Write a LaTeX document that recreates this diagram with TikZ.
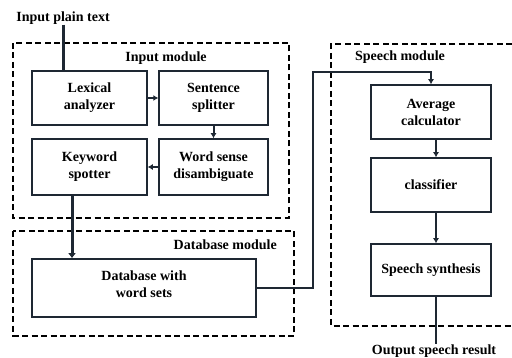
\documentclass[tikz,border=0pt]{standalone}
\usepackage{fontspec}
\setmainfont{Liberation Serif}
\usetikzlibrary{arrows.meta,positioning}
\definecolor{ink}{HTML}{1E2833}

\tikzset{
  box/.style={draw=ink, line width=1.5pt, fill=white, align=center, inner sep=2pt},
  module/.style={draw=black, line width=2pt, dash pattern=on 6pt off 3.5pt},
  link/.style={draw=ink, line width=2pt, -{Latex[length=5pt,width=6pt]}},
  feed/.style={draw=ink, line width=3pt},
  caption/.style={font=\bfseries\fontsize{14}{17}\selectfont, inner sep=0pt}
}

\begin{document}
\begin{tikzpicture}[x=1pt, y=-1pt, font=\bfseries\fontsize{14}{17}\selectfont]
  \useasboundingbox (0,0) rectangle (512,358);
  % module frames
  \draw[module] (13,43) rectangle (289,218);
  \draw[module] (13,231) rectangle (294,336);
  \draw[module] (512,44) -- (331,44) -- (331,326) -- (512,326);
  \node[caption] (inmod) at (166,58) {Input module};
  \node[caption, anchor=east] (dbmod) at (277,245) {Database module};
  \node[caption] (spmod) at (400,57) {Speech module};

  % input module
  \node[box, minimum width=115pt, minimum height=54pt] (lex) at (89.5,98) {Lexical\\analyzer};
  \node[box, minimum width=109pt, minimum height=54pt] (sent) at (213.5,98) {Sentence\\splitter};
  \node[box, minimum width=115pt, minimum height=56pt] (kw) at (89.5,167) {Keyword\\spotter};
  \node[box, minimum width=109pt, minimum height=56pt] (wsd) at (213.5,167) {Word sense\\disambiguate};

  % database module
  \node[box, minimum width=224pt, minimum height=58pt, text depth=7pt] (db) at (144,288) {Database with\\word sets};

  % speech module
  \node[box, minimum width=120pt, minimum height=54pt] (avg) at (431,112) {Average\\calculator};
  \node[box, minimum width=120pt, minimum height=54pt] (cls) at (431,185) {classifier};
  \node[box, minimum width=120pt, minimum height=52pt] (syn) at (431,270) {Speech synthesis};

  \node[caption] (intext) at (63,18) {Input plain text};
  \node[caption] (outtext) at (434,351) {Output speech result};

  \coordinate (kwout) at (72,195);
  \coordinate (bend) at (313,72);

  \draw[feed] (intext.south) -- (intext.south |- lex.north);
  \draw[link] (lex) -- (sent);
  \draw[link] (sent) -- (wsd);
  \draw[link] (wsd) -- (kw);
  \draw[feed, -{Latex[length=5pt,width=8pt]}] (kwout) -- (kwout |- db.north);
  \draw[link] (db.east) -| (bend) -| (avg.north);
  \draw[link] ([xshift=5pt]avg.south) -- ([xshift=5pt]cls.north);
  \draw[link] ([xshift=5pt]cls.south) -- ([xshift=5pt]syn.north);
  \draw[link, -] ([xshift=5pt]syn.south) -- ([xshift=5pt]syn.south |- outtext.north);
\end{tikzpicture}
\end{document}
